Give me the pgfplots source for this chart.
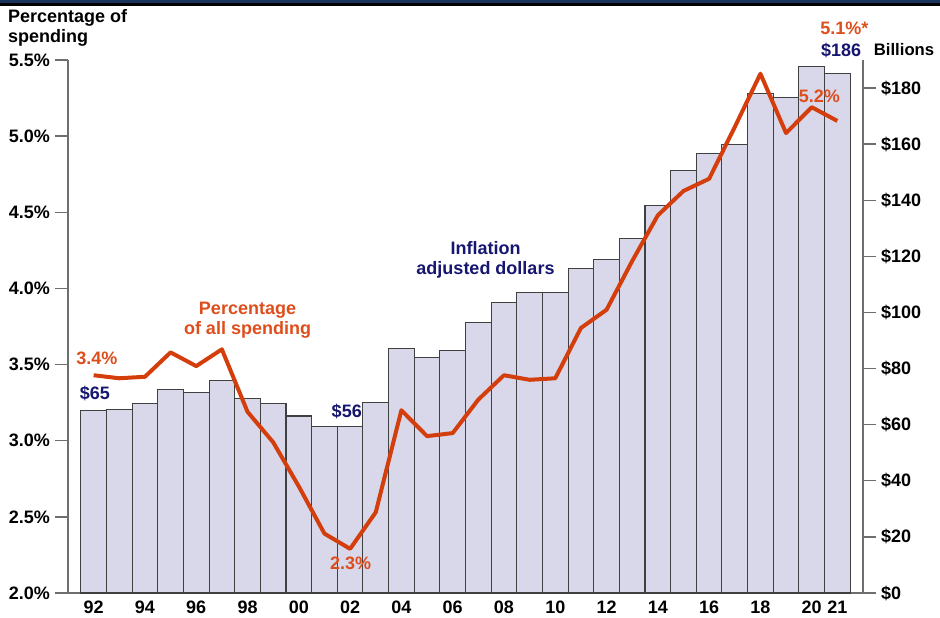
\documentclass[border=0pt]{standalone}
\usepackage{pgfplots}
\pgfplotsset{compat=1.18}
\usepackage{pgfplotstable}
\usepackage{fontspec}
\setmainfont{Liberation Sans}

\definecolor{barfill}{RGB}{216,216,234}
\definecolor{lineorange}{RGB}{212,62,12}
\definecolor{labelorange}{RGB}{222,78,28}
\definecolor{navytext}{RGB}{22,22,112}
\definecolor{axisgray}{RGB}{110,110,110}
\definecolor{bandnavy}{RGB}{28,52,92}

% inflation adjusted spending, billions of dollars
\pgfplotstableread{
year dollars
1992 65.0
1993 65.5
1994 67.4
1995 72.7
1996 71.5
1997 75.7
1998 69.4
1999 67.6
2000 63.1
2001 59.2
2002 59.3
2003 67.8
2004 87.3
2005 83.9
2006 86.5
2007 96.3
2008 103.5
2009 107.0
2010 107.2
2011 115.8
2012 119.0
2013 126.3
2014 138.2
2015 150.6
2016 156.6
2017 159.9
2018 178.1
2019 176.6
2020 187.7
2021 185.3
}\dollartable

% percentage of all spending
\pgfplotstableread{
year pct
1992 3.43
1993 3.41
1994 3.42
1995 3.58
1996 3.49
1997 3.60
1998 3.19
1999 2.99
2000 2.70
2001 2.39
2002 2.29
2003 2.53
2004 3.20
2005 3.03
2006 3.05
2007 3.27
2008 3.43
2009 3.40
2010 3.41
2011 3.74
2012 3.86
2013 4.18
2014 4.48
2015 4.64
2016 4.72
2017 5.06
2018 5.41
2019 5.02
2020 5.19
2021 5.10
}\pcttable

\pgfplotsset{
  common/.style={
    scale only axis, width=596.25pt, height=399.75pt,
    xmin=1991, xmax=2022,
    clip=false,
    tick align=outside, major tick length=10pt,
    axis line style={axisgray, line width=1pt},
    every tick/.style={axisgray, line width=1pt},
    /pgf/number format/assume math mode=true,
    every tick label/.append style={font=\bfseries\fontsize{13.5}{14}\selectfont},
  },
}

\begin{document}
\begin{tikzpicture}
\useasboundingbox (-51pt,-18.75pt) rectangle (654pt,444.75pt);
\fill[bandnavy] (-51pt,442.2pt) rectangle (654pt,444.75pt);
\fill[black] (-51pt,440.3pt) rectangle (654pt,442.2pt);

% bars, right axis
\begin{axis}[common,
  ymin=0, ymax=190,
  axis y line*=right, axis x line*=bottom,
  xtick={1992,1994,...,2020,2021},
  xticklabels={92,94,96,98,00,02,04,06,08,10,12,14,16,18,20,21},
  x tick style={draw=none},
  xticklabel style={yshift=7.5pt},
  ytick={0,20,...,180},
  yticklabel={\$\pgfmathprintnumber{\tick}},
]
\addplot[ybar, bar width=1, fill=barfill, draw=black!75, line width=0.8pt]
  table[x=year, y=dollars] {\dollartable};
\node[anchor=west, inner sep=0pt, font=\bfseries\fontsize{12.5}{14}\selectfont]
  at (rel axis cs:1,1) [xshift=8pt, yshift=8pt] {Billions};
\end{axis}

% percentage line, left axis
\begin{axis}[common,
  ymin=2, ymax=5.5,
  axis y line*=left, axis x line=none,
  ytick={2,2.5,...,5.5},
  yticklabel={\pgfmathprintnumber[fixed,fixed zerofill,precision=1]{\tick}\%},
]
\addplot[color=lineorange, line width=3pt, line join=round, no marks]
  table[x=year, y=pct] {\pcttable};

\begin{scope}[every node/.style={font=\bfseries\fontsize{13.5}{15}\selectfont}]
\node[anchor=north west, align=left, inner sep=1pt] at (axis cs:1988.6,5.84) {Percentage of\\spending};
\node[navytext] at (axis cs:1992.05,3.313) {\$65};
\node[labelorange] at (axis cs:1992.13,3.543) {3.4\%};
\node[labelorange, align=center] at (axis cs:1998.0,3.79) {Percentage\\of all spending};
\node[navytext] at (axis cs:2001.87,3.195) {\$56};
\node[labelorange] at (axis cs:2002.02,2.197) {2.3\%};
\node[navytext, align=center] at (axis cs:2007.28,4.186) {Inflation\\adjusted dollars};
\node[labelorange] at (axis cs:2020.30,5.263) {5.2\%};
\node[navytext] at (axis cs:2021.15,5.565) {\$186};
\node[labelorange] at (axis cs:2021.27,5.71) {5.1\%*};
\end{scope}
\end{axis}
\end{tikzpicture}
\end{document}
